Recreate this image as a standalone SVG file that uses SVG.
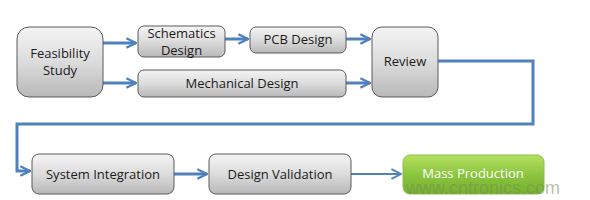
<svg xmlns="http://www.w3.org/2000/svg" width="590" height="200" viewBox="0 0 590 200">
<defs>
<linearGradient id="gray" x1="0" y1="0" x2="0" y2="1">
<stop offset="0" stop-color="#f4f4f4"/>
<stop offset="0.5" stop-color="#dcdcdc"/>
<stop offset="1" stop-color="#b8b8b8"/>
</linearGradient>
<linearGradient id="green" x1="0" y1="0" x2="0" y2="1">
<stop offset="0" stop-color="#b5e060"/>
<stop offset="0.5" stop-color="#8cc63f"/>
<stop offset="1" stop-color="#76b02e"/>
</linearGradient>
<marker id="arr" viewBox="0 0 10 10" refX="9" refY="5" markerWidth="4" markerHeight="4" orient="auto" markerUnits="strokeWidth">
<path d="M1,1 L9,5 L1,9" fill="none" stroke="#4f81bd" stroke-width="2"/>
</marker>
<marker id="arr2" viewBox="0 0 10 10" refX="9" refY="5" markerWidth="6" markerHeight="6" orient="auto" markerUnits="strokeWidth">
<path d="M1,1 L9,5 L1,9" fill="none" stroke="#4f81bd" stroke-width="1.6"/>
</marker>
</defs>
<style>
.box{fill:url(#gray);stroke:#5a5a5a;stroke-width:1}
.t{font-family:"Open Sans","Liberation Sans",sans-serif;font-size:13px;fill:#1a1a1a;text-anchor:middle}
.c{fill:none;stroke:#4f81bd;stroke-width:3}
.c2{fill:none;stroke:#4f81bd;stroke-width:2}
</style>
<rect width="590" height="200" fill="#ffffff"/>
<g id="connectors">
<path class="c" d="M103,43 H136" marker-end="url(#arr)"/>
<path class="c" d="M103,83 H136" marker-end="url(#arr)"/>
<path class="c" d="M225,39 H248" marker-end="url(#arr)"/>
<path class="c" d="M346,39 H370" marker-end="url(#arr)"/>
<path class="c" d="M346,83 H370" marker-end="url(#arr)"/>
<path class="c" d="M438,61 H533 V124 H17 V171 H30" marker-end="url(#arr)"/>
<path class="c" d="M174,174 H207" marker-end="url(#arr)"/>
<path class="c2" d="M351,174 H401" marker-end="url(#arr2)"/>
</g>
<g id="feasibility">
<rect class="box" x="17" y="27" width="86" height="70" rx="12"/>
<text class="t" x="60" y="58">Feasibility</text>
<text class="t" x="60" y="75">Study</text>
</g>
<g id="schematics">
<rect class="box" x="138" y="26" width="87" height="31" rx="6"/>
<text class="t" x="181.5" y="38">Schematics</text>
<text class="t" x="181.5" y="55">Design</text>
</g>
<g id="pcb">
<rect class="box" x="250" y="27" width="96" height="26" rx="6"/>
<text class="t" x="298" y="44">PCB Design</text>
</g>
<g id="mechanical">
<rect class="box" x="138" y="70" width="208" height="27" rx="6"/>
<text class="t" x="242" y="88">Mechanical Design</text>
</g>
<g id="review">
<rect class="box" x="372" y="27" width="66" height="70" rx="10"/>
<text class="t" x="405" y="66">Review</text>
</g>
<g id="system">
<rect class="box" x="32" y="154" width="142" height="40" rx="7"/>
<text class="t" x="103" y="179">System Integration</text>
</g>
<g id="validation">
<rect class="box" x="209" y="154" width="142" height="40" rx="7"/>
<text class="t" x="280" y="179">Design Validation</text>
</g>
<g id="mass">
<rect x="403" y="155" width="141" height="39" rx="7" fill="url(#green)" stroke="#8cbf48" stroke-width="1"/>
<text class="t" x="473" y="178" style="fill:#ffffff">Mass Production</text>
</g>
<text x="406" y="194" font-family="Liberation Sans, Arial, sans-serif" font-size="18" fill="#6f8f5a" fill-opacity="0.55">www.cntronics.com</text>
</svg>
